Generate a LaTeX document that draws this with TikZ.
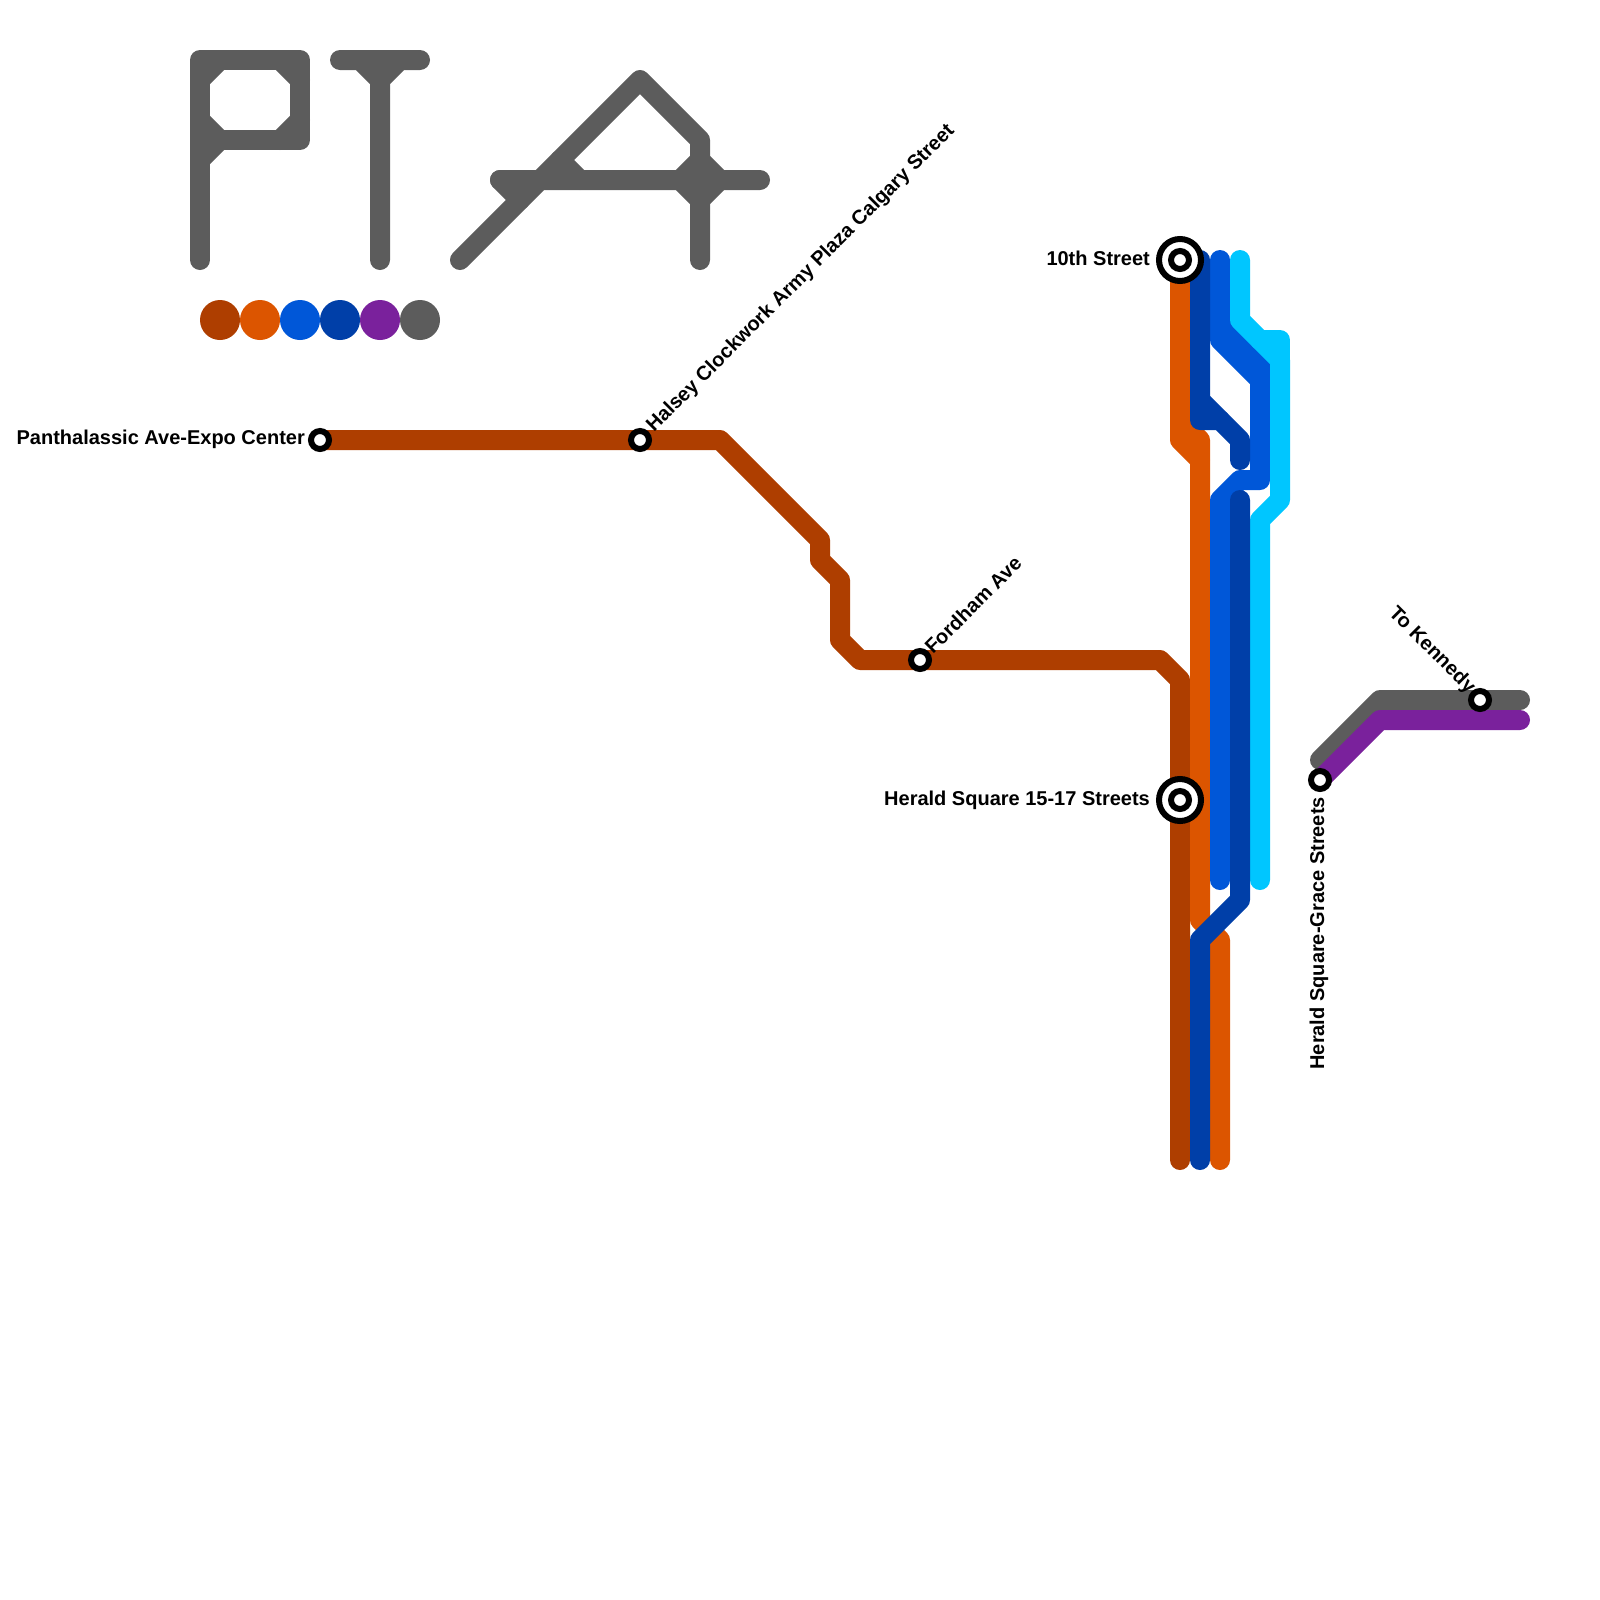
\documentclass[tikz,border=0pt]{standalone}
\usepackage{fontspec}
\setmainfont{Liberation Sans}
\definecolor{rustline}{RGB}{174,62,0}
\definecolor{orangeline}{RGB}{220,85,0}
\definecolor{blueline}{RGB}{0,87,216}
\definecolor{navyline}{RGB}{0,63,168}
\definecolor{skyline}{RGB}{0,198,255}
\definecolor{purpleline}{RGB}{122,33,156}
\definecolor{grayline}{RGB}{92,92,92}
\tikzset{
  metro/.style={line width=1cm,line cap=round,line join=round},
  stopmark/.style={circle,draw=black,fill=white,line width=0.3cm,minimum size=0.9cm,inner sep=0pt,outer sep=0pt},
  hubring/.style={circle,draw=black,fill=white,line width=0.3cm,minimum size=2.1cm,inner sep=0pt,outer sep=0pt},
  stoplabel/.style={font=\fontsize{28.45pt}{32pt}\selectfont\bfseries,inner sep=0pt,text=black},
  swatch/.style={circle,minimum size=2cm,inner sep=0pt,outer sep=0pt}
}
\begin{document}
\begin{tikzpicture}[x=1cm,y=-1cm]
  \useasboundingbox (0,0) rectangle (80,80);
  % --- logo letters
  \draw[metro,grayline] (10,13) -- (10,3) -- (15,3) -- (15,7) -- (10,7);
  \draw[metro,grayline] (10,4) -- (11,3) (14,3) -- (15,4) (15,6) -- (14,7) (10,6) -- (11,7) (10,8) -- (11,7);
  \draw[metro,grayline] (17,3) -- (21,3) (19,3) -- (19,13) (18,3) -- (19,4) -- (20,3);
  \draw[metro,grayline] (23,13) -- (32,4) -- (35,7) -- (35,13) (25,9) -- (38,9);
  \draw[metro,grayline] (25,9) -- (26,10) (28,8) -- (29,9) (34,9) -- (35,8) -- (36,9) -- (35,10) -- cycle;
  % --- legend
  \foreach \dotname/\dotcol [count=\k] in {rust/rustline,orange/orangeline,blue/blueline,navy/navyline,purple/purpleline,gray/grayline}{
    \node[swatch,fill=\dotcol] (dot\dotname) at ({9+2*\k},16) {};}
  % --- stations
  \coordinate (expo) at (16,22);
  \coordinate (halsey) at (32,22);
  \coordinate (fordham) at (46,33);
  \coordinate (tenth) at (59,13);
  \coordinate (herald) at (59,40);
  \coordinate (grace) at (66,39);
  \coordinate (kennedy) at (74,35);
  % --- lines
  \draw[metro,rustline] (expo) -- (halsey) -- (36,22) -- (41,27) -- (41,28) -- (42,29) -- (42,32) -- (43,33) -- (fordham) -- (58,33) -- (59,34) -- (herald) -- (59,58);
  \draw[metro,orangeline] (tenth) -- (59,22) -- (60,23) -- (60,46) -- (61,47) -- (61,58);
  \draw[metro,orangeline] (59,21) -- (60,22) -- (60,23);
  \draw[metro,blueline] (61,13) -- (61,17) -- (63,19) -- (63,24) -- (62,24) -- (61,25) -- (61,44);
  \draw[metro,blueline] (61,16) -- (63,18) -- (63,19);
  \draw[metro,skyline] (62,13) -- (62,16) -- (64,18) -- (64,25) -- (63,26) -- (63,44);
  \draw[metro,skyline] (63,17) -- (64,17) -- (64,18);
  \draw[metro,navyline] (60,13) -- (60,21) -- (61,21) -- (62,22) -- (62,23);
  \draw[metro,navyline] (60,20) -- (61,21);
  \draw[metro,navyline] (62,25) -- (62,45) -- (60,47) -- (60,58);
  \draw[metro,grayline] (66,38) -- (69,35) -- (kennedy) -- (76,35);
  \draw[metro,purpleline] (grace) -- (69,36) -- (76,36);
  % --- station marks
  \node[hubring] (tenthring) at (tenth) {};
  \node[hubring] (heraldring) at (herald) {};
  \foreach \st in {expo,halsey,fordham,tenth,herald,grace,kennedy}{
    \node[stopmark] (\st mark) at (\st) {};}
  % --- labels
  \node[stoplabel,anchor=base east] (expolabel) at (15.25,22.2) {Panthalassic Ave-Expo Center};
  \node[stoplabel,anchor=base west,rotate=45] (halseylabel) at (32.7,21.65) {Halsey Clockwork Army Plaza Calgary Street};
  \node[stoplabel,anchor=base west,rotate=45] (fordhamlabel) at (46.65,32.75) {Fordham Ave};
  \node[stoplabel,anchor=base east] (tenthlabel) at (57.5,13.25) {10th Street};
  \node[stoplabel,anchor=base east] (heraldlabel) at (57.5,40.25) {Herald Square 15-17 Streets};
  \node[stoplabel,anchor=base east,rotate=90] (gracelabel) at (66.2,39.85) {Herald Square-Grace Streets};
  \node[stoplabel,anchor=base east,rotate=-45] (kennedylabel) at (73.4,34.7) {To Kennedy};
\end{tikzpicture}
\end{document}
